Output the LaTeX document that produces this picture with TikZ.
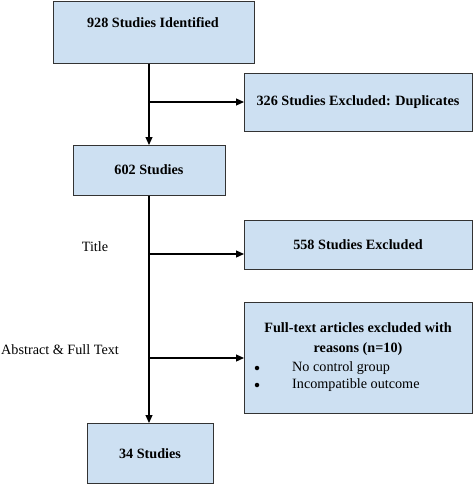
\documentclass[tikz,border=0pt]{standalone}
\usepackage{fontspec}
\setmainfont{Liberation Serif}
\usetikzlibrary{arrows.meta}
\definecolor{boxfill}{HTML}{CDE0F2}
\definecolor{boxline}{HTML}{333333}
\begin{document}
\begin{tikzpicture}[x=1pt,y=-1pt,
  box/.style={draw=boxline,fill=boxfill,line width=1.2pt,inner sep=0pt,anchor=north west},
  btxt/.style={font=\fontsize{14.2}{20}\selectfont\bfseries,inner sep=0pt,align=center},
  rtxt/.style={font=\fontsize{14.2}{17}\selectfont,inner sep=0pt},
  bul/.style={circle,fill=black,inner sep=0pt,minimum size=4.5pt},
  conn/.style={line width=1.2pt,-{Triangle[length=8pt,width=7pt]}}]
\useasboundingbox (0,0) rectangle (475,485);
% boxes
\node[box,minimum width=201pt,minimum height=62pt] (b1) at (53,1) {};
\node[box,minimum width=228pt,minimum height=58pt] (b2) at (244,73) {};
\node[box,minimum width=152pt,minimum height=50pt] (b3) at (73,145) {};
\node[box,minimum width=228pt,minimum height=49pt] (b4) at (244,220) {};
\node[box,minimum width=228pt,minimum height=111pt] (b5) at (244,302) {};
\node[box,minimum width=126pt,minimum height=60pt] (b6) at (87,423) {};
% texts
\node[btxt] (t1) at (153,23) {928 Studies Identified};
\node[btxt] (t2) at (358,102) {326 Studies Excluded: Duplicates};
\node[btxt] (t3) at (149,170) {602 Studies};
\node[btxt] (t4) at (358,245) {558 Studies Excluded};
\node[btxt] (t5) at (358,339) {Full-text articles excluded with\\reasons (n=10)};
\node[rtxt,anchor=west] (t5a) at (292,368) {No control group};
\node[rtxt,anchor=west] (t5b) at (292,385) {Incompatible outcome};
\node[bul] (bu1) at (257,368) {};
\node[bul] (bu2) at (257,385) {};
\node[btxt] (t6) at (150,454) {34 Studies};
\node[rtxt] (l1) at (95,247) {Title};
\node[rtxt,anchor=west] (l2) at (1,350) {Abstract \& Full Text};
% connectors
\coordinate (tr) at (149,0);
\coordinate (j1) at (149,102);
\coordinate (j2) at (149,254);
\coordinate (j3) at (149,358);
\draw[conn] (tr |- b1.south) -- (tr |- b3.north);
\draw[conn] (j1) -- (j1 -| b2.west);
\draw[conn] (tr |- b3.south) -- (tr |- b6.north);
\draw[conn] (j2) -- (j2 -| b4.west);
\draw[conn] (j3) -- (j3 -| b5.west);
\end{tikzpicture}
\end{document}
